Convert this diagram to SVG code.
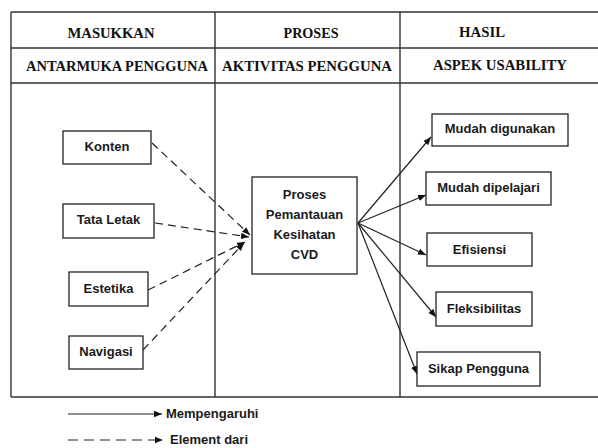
<svg xmlns="http://www.w3.org/2000/svg" width="598" height="448" viewBox="0 0 598 448">
<style>
.grid{stroke:#333;stroke-width:1.4;fill:none}
.hd{font-family:"Liberation Serif","Times New Roman",serif;font-weight:bold;font-size:15px;fill:#111;text-anchor:middle}
.box{fill:#fff;stroke:#222;stroke-width:1.3}
.lbl{font-family:"Liberation Sans",Arial,sans-serif;font-weight:bold;font-size:13px;fill:#1a1a1a;text-anchor:middle}
.solid{stroke:#222;stroke-width:1.2;fill:none}
.dash{stroke:#222;stroke-width:1.2;fill:none;stroke-dasharray:8 5}
.ldash{stroke:#222;stroke-width:1.2;fill:none;stroke-dasharray:10 6}
.leg{font-family:"Liberation Sans",Arial,sans-serif;font-weight:bold;font-size:13px;fill:#1a1a1a}
</style>
<defs>
<marker id="ah" viewBox="0 0 10 10" refX="10" refY="5" markerWidth="8" markerHeight="8" markerUnits="userSpaceOnUse" orient="auto">
<path d="M0,1 L10,5 L0,9 Z" fill="#111"/>
</marker>
</defs>
<g id="table">
<path class="grid" d="M11,12 H598 M11,48 H598 M11,83 H598 M11,397 H598 M11,12 V397 M215,12 V397 M400,12 V397"/>
<text class="hd" x="111" y="38" textLength="87" lengthAdjust="spacingAndGlyphs">MASUKKAN</text>
<text class="hd" x="117" y="71" textLength="182" lengthAdjust="spacingAndGlyphs">ANTARMUKA PENGGUNA</text>
<text class="hd" x="311" y="38" textLength="55" lengthAdjust="spacingAndGlyphs">PROSES</text>
<text class="hd" x="307" y="71" textLength="170" lengthAdjust="spacingAndGlyphs">AKTIVITAS PENGGUNA</text>
<text class="hd" x="482" y="37" textLength="46" lengthAdjust="spacingAndGlyphs">HASIL</text>
<text class="hd" x="500" y="70" textLength="134" lengthAdjust="spacingAndGlyphs">ASPEK USABILITY</text>
</g>
<g id="connectors">
<line class="dash" x1="152" y1="143" x2="250" y2="235" marker-end="url(#ah)"/>
<line class="dash" x1="155" y1="223" x2="249" y2="237" marker-end="url(#ah)"/>
<line class="dash" x1="148" y1="290" x2="245" y2="242" marker-end="url(#ah)"/>
<line class="dash" x1="143" y1="350" x2="244" y2="243" marker-end="url(#ah)"/>
<line class="solid" x1="358" y1="223" x2="431" y2="137" marker-end="url(#ah)"/>
<line class="solid" x1="358" y1="223" x2="426" y2="195" marker-end="url(#ah)"/>
<line class="solid" x1="358" y1="223" x2="426" y2="255" marker-end="url(#ah)"/>
<line class="solid" x1="358" y1="223" x2="436" y2="317" marker-end="url(#ah)"/>
<line class="solid" x1="358" y1="223" x2="417" y2="374" marker-end="url(#ah)"/>
</g>
<g id="konten"><rect class="box" x="63" y="131" width="88" height="33"/><text class="lbl" x="107" y="151">Konten</text></g>
<g id="tata-letak"><rect class="box" x="63" y="204" width="91" height="34"/><text class="lbl" x="108.5" y="224">Tata Letak</text></g>
<g id="estetika"><rect class="box" x="69" y="272" width="79" height="34"/><text class="lbl" x="108.5" y="293">Estetika</text></g>
<g id="navigasi"><rect class="box" x="69" y="336" width="74" height="33"/><text class="lbl" x="106" y="356">Navigasi</text></g>
<g id="proses"><rect class="box" x="252" y="177" width="105" height="97"/>
<text class="lbl" x="304.5" y="199">Proses</text>
<text class="lbl" x="304.5" y="219">Pemantauan</text>
<text class="lbl" x="304.5" y="239">Kesihatan</text>
<text class="lbl" x="304.5" y="259">CVD</text></g>
<g id="mudah-digunakan"><rect class="box" x="432" y="114" width="136" height="32"/><text class="lbl" x="500" y="133">Mudah digunakan</text></g>
<g id="mudah-dipelajari"><rect class="box" x="426" y="172" width="125" height="33"/><text class="lbl" x="488.5" y="192">Mudah dipelajari</text></g>
<g id="efisiensi"><rect class="box" x="427" y="233" width="105" height="33"/><text class="lbl" x="479.5" y="254">Efisiensi</text></g>
<g id="fleksibilitas"><rect class="box" x="436" y="292" width="96" height="34"/><text class="lbl" x="484" y="313">Fleksibilitas</text></g>
<g id="sikap-pengguna"><rect class="box" x="417" y="352" width="123" height="34"/><text class="lbl" x="478.5" y="373">Sikap Pengguna</text></g>
<g id="legend">
<line class="solid" x1="68" y1="414" x2="162" y2="414" marker-end="url(#ah)"/>
<text class="leg" x="166" y="418">Mempengaruhi</text>
<line class="ldash" x1="68" y1="440" x2="163" y2="440" marker-end="url(#ah)"/>
<text class="leg" x="170" y="444">Element dari</text>
</g>
</svg>
